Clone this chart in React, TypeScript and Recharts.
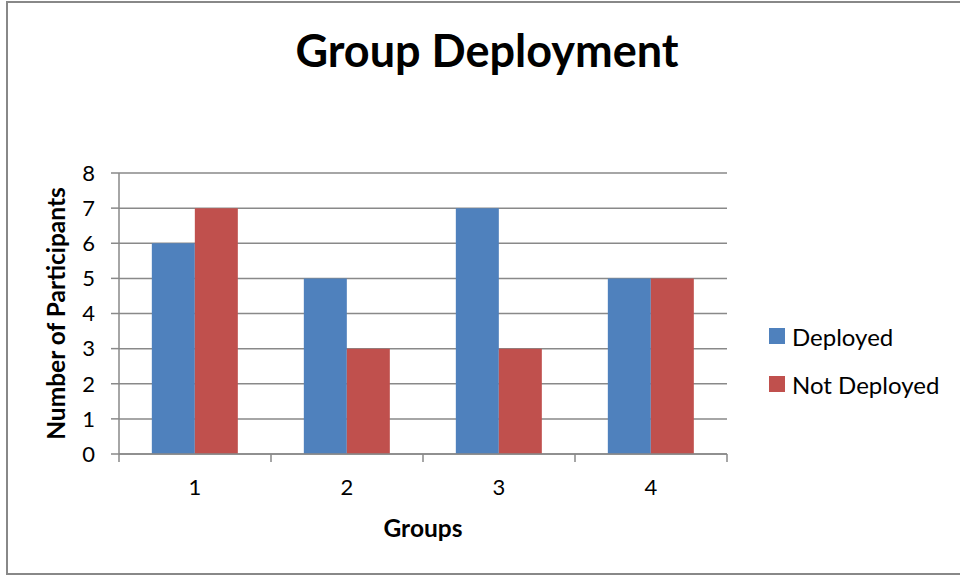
import { BarChart, Bar, XAxis, YAxis, CartesianGrid } from "recharts";

const groups = ["1", "2", "3", "4"];
const deployed = [6, 5, 7, 5];
const notDeployed = [7, 3, 3, 5];
const yTicks = [0, 1, 2, 3, 4, 5, 6, 7, 8];

const BLUE = "#4F81BD";
const RED = "#C0504D";
const GRID = "#898989";
const FONT = "Lato, 'Open Sans', sans-serif";
const TICK_GAP = 25;

const data = groups.map((g, i) => ({
  group: g,
  deployed: deployed[i],
  notDeployed: notDeployed[i],
}));

const legendItems = [
  { label: "Deployed", color: BLUE },
  { label: "Not Deployed", color: RED },
];

// category label in the middle, tick marks on the category edges (Excel style)
function GroupTick(props: any) {
  const { x, y, payload, index, visibleTicksCount } = props;
  const half = payload.offset ?? 0;
  const axisY = y - TICK_GAP;
  const last = index === visibleTicksCount - 1;
  return (
    <g>
      <line x1={x - half} y1={axisY} x2={x - half} y2={axisY + 8} stroke={GRID} strokeWidth={1.5} />
      {last && <line x1={x + half} y1={axisY} x2={x + half} y2={axisY + 8} stroke={GRID} strokeWidth={1.5} />}
      <text x={x} y={y} dy="0.71em" textAnchor="middle" fontFamily={FONT} fontSize={22} fill="#000">
        {payload.value}
      </text>
    </g>
  );
}

function LegendBox() {
  return (
    <div style={{ position: "absolute", left: 769, top: 312, fontFamily: FONT, fontSize: 24, color: "#000" }}>
      {legendItems.map((it) => (
        <div key={it.label} style={{ display: "flex", alignItems: "center", height: 48 }}>
          <span style={{ width: 16, height: 16, background: it.color, marginRight: 7 }} />
          <span>{it.label}</span>
        </div>
      ))}
    </div>
  );
}

export default function App() {
  return (
    <div style={{ position: "absolute", left: 0, top: 0, width: 960, height: 578, background: "#fff", overflow: "hidden" }}>
      <div
        style={{
          position: "absolute",
          left: 6,
          top: 1,
          width: 1000,
          height: 574,
          border: "2px solid #888",
          boxSizing: "border-box",
        }}
      />
      <div
        style={{
          position: "absolute",
          left: 0,
          top: 23,
          width: 974,
          textAlign: "center",
          fontFamily: FONT,
          fontWeight: 700,
          fontSize: 45,
        }}
      >
        Group Deployment
      </div>
      <BarChart
        width={960}
        height={578}
        data={data}
        margin={{ top: 173, right: 233, bottom: 64, left: 59 }}
        barCategoryGap="21.6%"
        barGap={0}
        style={{ position: "absolute", left: 0, top: 0 }}
      >
        <CartesianGrid vertical={false} stroke={GRID} strokeWidth={1.5} />
        <XAxis
          dataKey="group"
          height={60}
          stroke={GRID}
          strokeWidth={1.5}
          tickLine={false}
          tickSize={0}
          tickMargin={TICK_GAP}
          tick={<GroupTick />}
          label={{
            value: "Groups",
            content: ({ viewBox }: any) => (
              <text
                x={viewBox.x + viewBox.width / 2}
                y={viewBox.y + 83}
                textAnchor="middle"
                fontFamily={FONT}
                fontWeight={700}
                fontSize={24.5}
                fill="#000"
              >
                Groups
              </text>
            ),
          }}
        />
        <YAxis
          domain={[0, 8]}
          ticks={yTicks}
          width={60}
          stroke={GRID}
          strokeWidth={1.5}
          tickSize={8}
          tickMargin={16}
          tick={{ fontSize: 22, fill: "#000", fontFamily: FONT }}
          label={{
            value: "Number of Participants",
            content: ({ viewBox }: any) => {
              const cx = viewBox.x + viewBox.width - 64;
              const cy = viewBox.y + viewBox.height / 2;
              return (
                <text
                  x={cx}
                  y={cy}
                  transform={`rotate(-90 ${cx} ${cy})`}
                  textAnchor="middle"
                  dominantBaseline="central"
                  fontFamily={FONT}
                  fontWeight={700}
                  fontSize={24.5}
                  fill="#000"
                >
                  Number of Participants
                </text>
              );
            },
          }}
        />
        <Bar dataKey="deployed" fill={BLUE} isAnimationActive={false} />
        <Bar dataKey="notDeployed" fill={RED} isAnimationActive={false} />
      </BarChart>
      <LegendBox />
    </div>
  );
}
